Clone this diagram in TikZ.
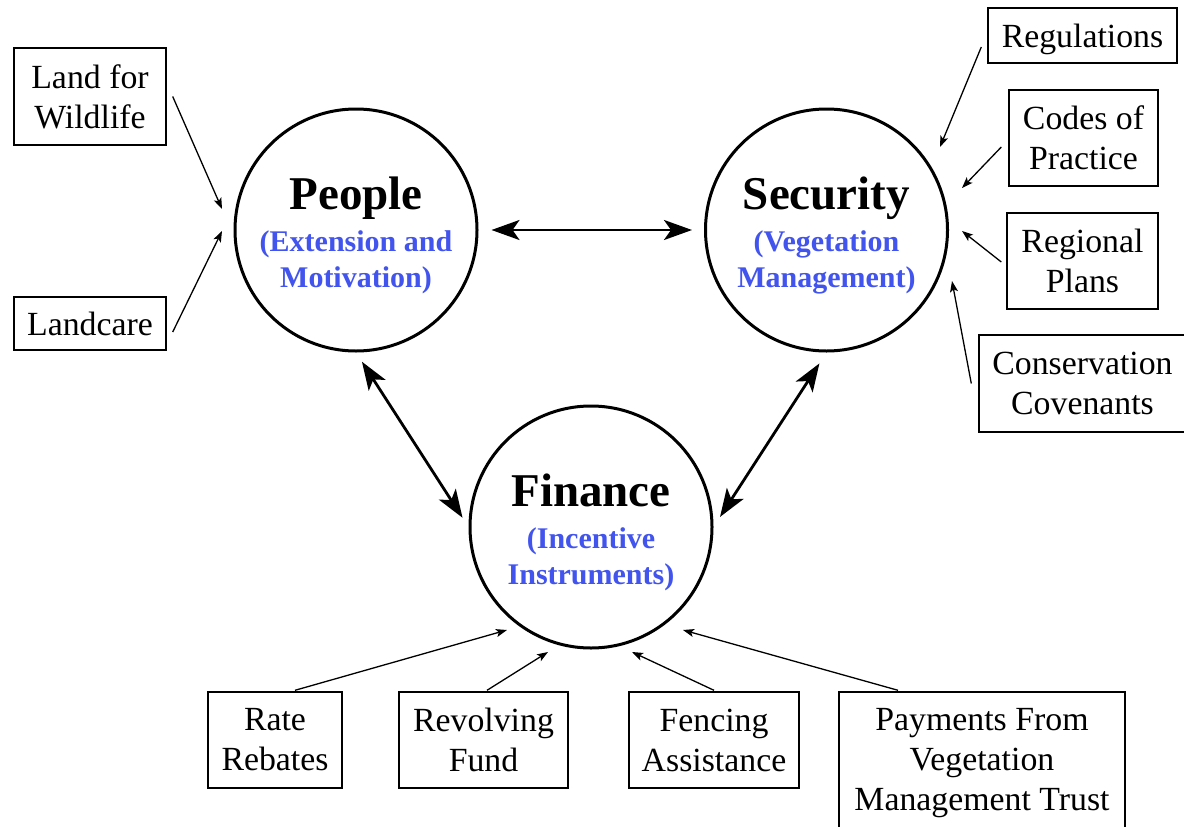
\documentclass[tikz,border=0pt]{standalone}
\usepackage{fontspec}
\setmainfont{Liberation Serif}
\usetikzlibrary{arrows.meta}
\definecolor{subblue}{RGB}{66,84,238}
\begin{document}
\begin{tikzpicture}[x=1pt,y=-1pt,
  hub/.style={circle,draw,line width=3pt,minimum size=242pt,inner sep=0pt},
  hubtitle/.style={anchor=base,inner sep=0pt,font=\fontsize{47}{47}\selectfont\bfseries},
  hubsub/.style={anchor=base,inner sep=0pt,text=subblue,font=\fontsize{30}{30}\selectfont\bfseries},
  leaf/.style={draw,line width=1.4pt,inner sep=0pt,align=center,font=\fontsize{33.8}{40}\selectfont},
  link/.style={{Stealth[length=28pt,width=20pt,inset=7pt]}-{Stealth[length=28pt,width=20pt,inset=7pt]},line width=2.8pt},
  feed/.style={-{Stealth[length=11pt,width=8pt,inset=2.5pt]},line width=1.3pt},
]
\useasboundingbox (0,0) rectangle (1184,827);
\clip (0,0) rectangle (1184,827);
\fill[white] (0,0) rectangle (1184,827);

% the three hubs
\node[hub] (pc) at (356,230) {};
\node[hubtitle] (pt)  at ([yshift=21pt]pc.center) {People};
\node[hubsub]   (ps1) at ([yshift=-21pt]pc.center) {(Extension and};
\node[hubsub]   (ps2) at ([yshift=-57.5pt]pc.center) {Motivation)};

\node[hub] (sc) at (826.5,230) {};
\node[hubtitle] (st)  at ([yshift=21pt]sc.center) {Security};
\node[hubsub]   (ss1) at ([yshift=-21pt]sc.center) {(Vegetation};
\node[hubsub]   (ss2) at ([yshift=-57.5pt]sc.center) {Management)};

\node[hub] (fc) at (591,527) {};
\node[hubtitle] (ft)  at ([yshift=21pt]fc.center) {Finance};
\node[hubsub]   (fs1) at ([yshift=-21pt]fc.center) {(Incentive};
\node[hubsub]   (fs2) at ([yshift=-57.5pt]fc.center) {Instruments)};

% two-way links between hubs
\draw[link] ([xshift=13pt]pc.east) -- ([xshift=-12pt]sc.west);
\draw[link,shorten <=11pt,shorten >=11pt] (pc.south) -- (fc.west);
\draw[link,shorten <=13pt,shorten >=12pt] (sc.south) -- (fc.east);

% programmes feeding each hub
\node[leaf,minimum width=152pt,minimum height=97pt] (lfw) at (90,96.5) {Land for\\Wildlife};
\node[leaf,minimum width=152pt,minimum height=53pt] (lc)  at (90,323.5) {Landcare};

\node[leaf,minimum width=189pt,minimum height=55pt,text depth=0pt] (reg) at (1082.5,35.5) {Regulations};
\node[leaf,minimum width=149pt,minimum height=96pt] (cod) at (1083.5,138) {Codes of\\Practice};
\node[leaf,minimum width=151pt,minimum height=96pt] (rgp) at (1082.5,261) {Regional\\Plans};
\node[leaf,minimum width=207pt,minimum height=97pt] (con) at (1082.5,383.5) {Conservation\\Covenants};

\node[leaf,minimum width=134pt,minimum height=96pt]  (rate) at (275,740) {Rate\\Rebates};
\node[leaf,minimum width=169pt,minimum height=96pt]  (rev)  at (483.5,740) {Revolving\\Fund};
\node[leaf,minimum width=170pt,minimum height=96pt]  (fen)  at (714,740) {Fencing\\Assistance};
\node[leaf,minimum width=286pt,minimum height=143pt] (pay)  at (982,763.5) {Payments From\\Vegetation\\Management Trust};

% arrow tips next to the hubs
\coordinate (tLfw)  at (222,209);
\coordinate (tLc)   at (222,231);
\coordinate (tReg)  at (940,147);
\coordinate (tCod)  at (962,188);
\coordinate (tRgp)  at (962,231);
\coordinate (tCon)  at (952,281);
\coordinate (tRate) at (507,630);
\coordinate (tRev)  at (548,652);
\coordinate (tFen)  at (632,652);
\coordinate (tPay)  at (683,630);

\draw[feed] ([xshift=6pt]lfw.east) -- (tLfw);
\draw[feed] ([xshift=6pt,yshift=-8.5pt]lc.east) -- (tLc);
\draw[feed] ([xshift=-6pt,yshift=-11.5pt]reg.west) -- (tReg);
\draw[feed] ([xshift=-7pt,yshift=-9pt]cod.west) -- (tCod);
\draw[feed] ([xshift=-5pt,yshift=-1pt]rgp.west) -- (tRgp);
\draw[feed] ([xshift=-7pt]con.west) -- (tCon);
\draw[feed] ([xshift=20pt,yshift=1pt]rate.north) -- (tRate);
\draw[feed] ([xshift=3.5pt,yshift=1pt]rev.north) -- (tRev);
\draw[feed] ([yshift=1pt]fen.north) -- (tFen);
\draw[feed] ([xshift=-84pt,yshift=1pt]pay.north) -- (tPay);
\end{tikzpicture}
\end{document}
